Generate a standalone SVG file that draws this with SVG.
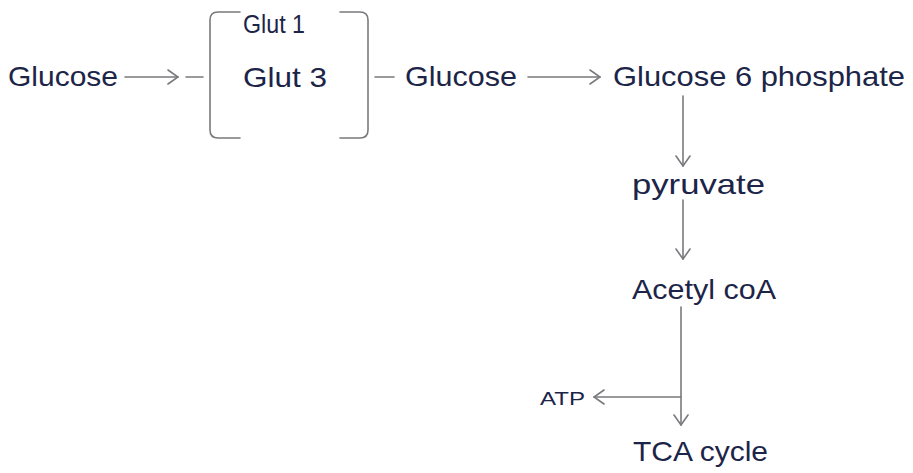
<svg xmlns="http://www.w3.org/2000/svg" width="913" height="473" viewBox="0 0 913 473">
<defs>
<style>
.t{font-family:"Liberation Sans","DejaVu Sans",sans-serif;font-size:28px;fill:#1c2548}
.s{font-size:19px}
.c{fill:none;stroke:#7a7a7e;stroke-width:1.6;stroke-linecap:round}
</style>
<marker id="ah" viewBox="0 0 12 16" refX="11" refY="8" markerWidth="12" markerHeight="16" markerUnits="userSpaceOnUse" orient="auto">
<path d="M1,1 L11,8 L1,15" fill="none" stroke="#7a7a7e" stroke-width="1.6" stroke-linecap="round"/>
</marker>
</defs>
<rect width="913" height="473" fill="#ffffff"/>
<g id="connectors">
<line class="c" x1="125" y1="77" x2="178" y2="77" marker-end="url(#ah)"/>
<line class="c" x1="186" y1="77" x2="203" y2="77"/>
<line class="c" x1="375" y1="77" x2="394" y2="77"/>
<line class="c" x1="528" y1="77" x2="600" y2="77" marker-end="url(#ah)"/>
<line class="c" x1="683" y1="96" x2="683" y2="166" marker-end="url(#ah)"/>
<line class="c" x1="683" y1="200" x2="683" y2="259" marker-end="url(#ah)"/>
<line class="c" x1="681" y1="307" x2="681" y2="425" marker-end="url(#ah)"/>
<line class="c" x1="681" y1="397" x2="594" y2="397" marker-end="url(#ah)"/>
</g>
<g id="glut-bracket">
<path class="c" d="M240,12 H218 Q210,12 210,20 V130 Q210,138 218,138 H240"/>
<path class="c" d="M340,12 H360 Q368,12 368,20 V130 Q368,138 360,138 H340"/>
<text class="t" x="243" y="33" style="font-size:25px" textLength="62" lengthAdjust="spacingAndGlyphs">Glut 1</text>
<text class="t" x="243" y="87" textLength="84" lengthAdjust="spacingAndGlyphs">Glut 3</text>
</g>
<g id="glucose-in"><text class="t" x="8" y="86" textLength="110" lengthAdjust="spacingAndGlyphs">Glucose</text></g>
<g id="glucose-out"><text class="t" x="405" y="86" textLength="112" lengthAdjust="spacingAndGlyphs">Glucose</text></g>
<g id="g6p"><text class="t" x="613" y="86" textLength="292" lengthAdjust="spacingAndGlyphs">Glucose 6 phosphate</text></g>
<g id="pyruvate"><text class="t" x="632" y="194" textLength="133" lengthAdjust="spacingAndGlyphs">pyruvate</text></g>
<g id="acetyl-coa"><text class="t" x="632" y="299" textLength="144" lengthAdjust="spacingAndGlyphs">Acetyl coA</text></g>
<g id="atp"><text class="t s" x="540" y="405" textLength="45" lengthAdjust="spacingAndGlyphs">ATP</text></g>
<g id="tca"><text class="t" x="633" y="461" textLength="135" lengthAdjust="spacingAndGlyphs">TCA cycle</text></g>
</svg>
